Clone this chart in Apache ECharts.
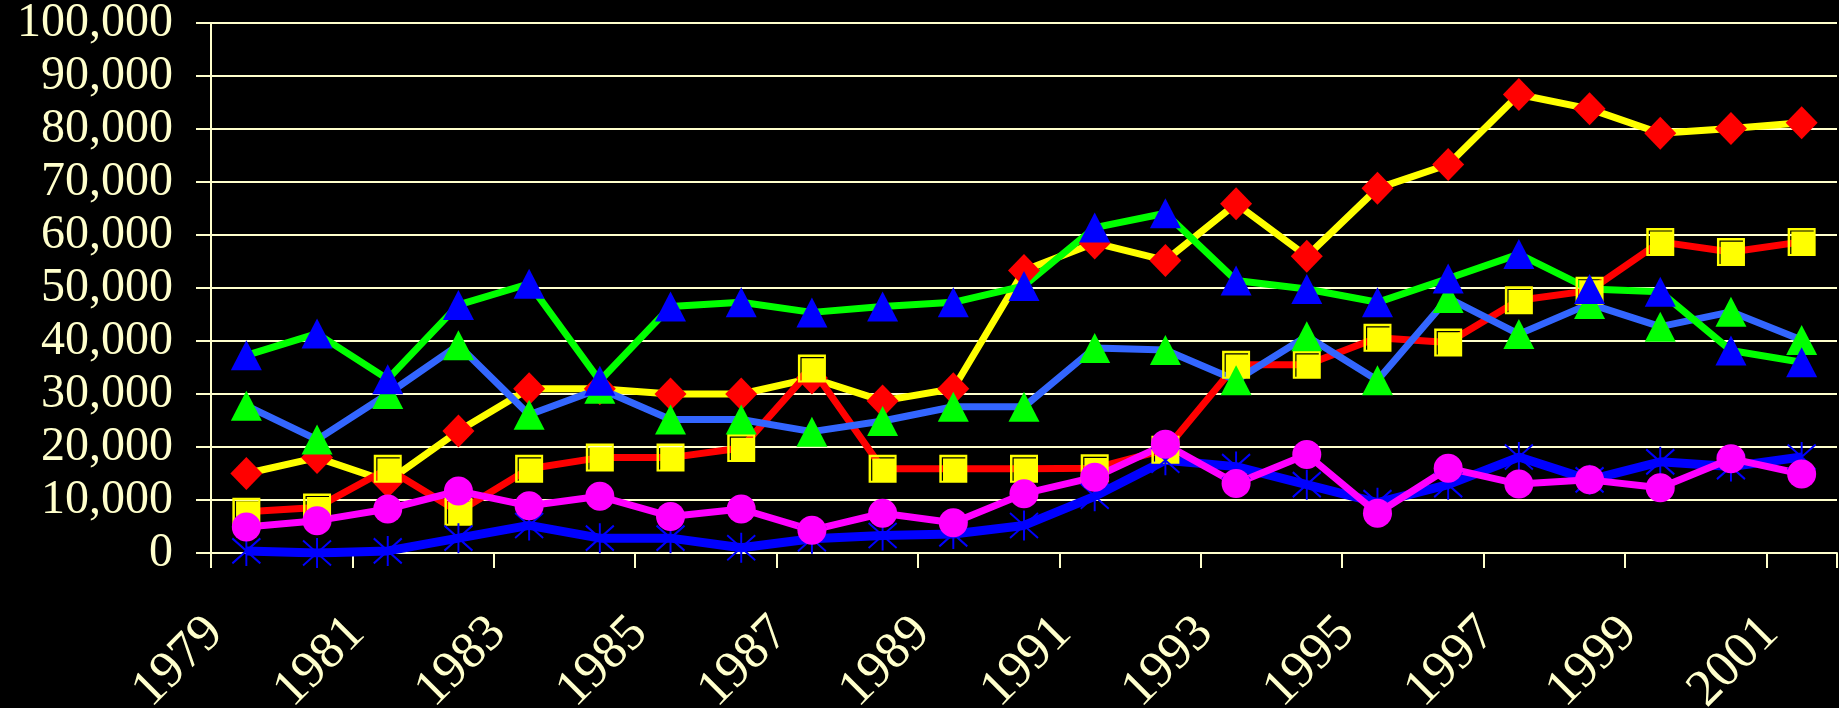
<!DOCTYPE html>
<html>
<head>
<meta charset="utf-8">
<script src="https://cdn.jsdelivr.net/npm/echarts@6/dist/echarts.min.js"></script>
<style>
html, body { margin: 0; padding: 0; background: #000; }
#main { width: 1839px; height: 708px; }
</style>
</head>
<body>
<div id="main"></div>
<script>
var years = ['1979','1980','1981','1982','1983','1984','1985','1986','1987','1988','1989','1990',
             '1991','1992','1993','1994','1995','1996','1997','1998','1999','2000','2001'];

// yellow line, red diamonds
var seriesA = [15000, 18000, 13500, 23000, 31000, 31000, 30000, 30000, 33000, 28700, 31000, 53300,
               58500, 55200, 65900, 56000, 68800, 73300, 86500, 83800, 79200, 80100, 81200];
// red line, yellow squares
var seriesB = [7800, 8600, 15900, 7800, 15900, 18000, 18000, 19800, 34800, 15900, 15900, 15900,
               16000, 19500, 35500, 35500, 40600, 39700, 47700, 49500, 58700, 56800, 58700];
// green line, blue triangles
var seriesC = [37300, 41400, 32800, 46800, 50800, 32500, 46500, 47300, 45400, 46500, 47300, 50400,
               61400, 64100, 51400, 49800, 47300, 51800, 56400, 49800, 49300, 38200, 36000];
// light blue line, green triangles
var seriesD = [27800, 21400, 30000, 39200, 26100, 31000, 25200, 25200, 22900, 24900, 27600, 27600,
               38700, 38300, 32600, 40900, 32600, 48100, 41300, 47000, 42700, 45500, 40200];
// magenta line, magenta circles
var seriesE = [4900, 6100, 8300, 11700, 8900, 10700, 6900, 8300, 4300, 7500, 5700, 11200,
               14300, 20500, 13100, 18600, 7500, 16000, 13000, 13800, 12300, 17800, 14900];
// blue line, blue stars
var seriesF = [400, 0, 400, 2800, 5200, 2800, 2800, 1000, 2700, 3300, 3600, 5200,
               10700, 17500, 16300, 12900, 9500, 12900, 18100, 13800, 17200, 16300, 18100];

var cream = '#FFFFCC';
var starPath = 'path://M0,1L10,11M10,1L0,11M5,0L5,12';
// square with a thin dark inset line along top and left
var boxPath = 'path://M0,0L28,0L28,28L0,28Z M2.5,2.5L2.5,26L3.7,26L3.7,3.7L26,3.7L26,2.5Z';

var myChart = echarts.init(document.getElementById('main'));

var option = {
    backgroundColor: '#000000',
    animation: false,
    grid: {
        left: 211,
        right: 2,
        top: 23,
        bottom: 155,
        containLabel: false,
        outerBoundsMode: 'none'
    },
    xAxis: {
        type: 'category',
        data: years,
        boundaryGap: true,
        axisLine: { lineStyle: { color: cream, width: 2 } },
        axisTick: { show: true, length: 15, lineStyle: { color: cream, width: 2 } },
        axisLabel: {
            interval: 1,
            rotate: 45,
            margin: 41,
            padding: [0, 44, 0, 0],
            color: cream,
            fontFamily: 'Liberation Serif',
            fontSize: 52
        },
        splitLine: { show: false }
    },
    yAxis: {
        type: 'value',
        min: 0,
        max: 100000,
        interval: 10000,
        axisLine: { show: true, lineStyle: { color: cream, width: 2 } },
        axisTick: { show: true, length: 15, lineStyle: { color: cream, width: 2 } },
        axisLabel: {
            margin: 38,
            color: cream,
            fontFamily: 'Liberation Serif',
            fontSize: 48,
            formatter: function (v) {
                return v.toString().replace(/\B(?=(\d{3})+(?!\d))/g, ',');
            }
        },
        splitLine: { show: true, lineStyle: { color: cream, width: 2 } }
    },
    series: [
        {
            name: 'A', type: 'line', data: seriesA, showAllSymbol: true,
            symbol: 'diamond', symbolSize: [32, 33],
            lineStyle: { color: '#FFFF00', width: 7 },
            itemStyle: { color: '#FF0000' }
        },
        {
            name: 'B', type: 'line', data: seriesB, showAllSymbol: true,
            symbol: boxPath, symbolSize: [28, 28],
            lineStyle: { color: '#FF0000', width: 7 },
            itemStyle: { color: '#FFFF00' }
        },
        {
            name: 'D', type: 'line', data: seriesD, showAllSymbol: true,
            symbol: 'triangle', symbolSize: [31, 30],
            lineStyle: { color: '#3366FF', width: 7 },
            itemStyle: { color: '#00FF00' }
        },
        {
            name: 'C', type: 'line', data: seriesC, showAllSymbol: true,
            symbol: 'triangle', symbolSize: [31, 30],
            lineStyle: { color: '#00FF00', width: 7 },
            itemStyle: { color: '#0000FF' }
        },
        {
            name: 'F', type: 'line', data: seriesF, showAllSymbol: true,
            symbol: starPath, symbolSize: [28, 30],
            lineStyle: { color: '#0000FF', width: 9 },
            itemStyle: { color: '#0000FF', borderColor: '#0000FF', borderWidth: 2 }
        },
        {
            name: 'E', type: 'line', data: seriesE, showAllSymbol: true,
            symbol: 'circle', symbolSize: [29, 29],
            lineStyle: { color: '#FF00FF', width: 7 },
            itemStyle: { color: '#FF00FF' }
        }
    ]
};

myChart.setOption(option);

window.onresize = function () {
    myChart.resize();
};
</script>
</body>
</html>
